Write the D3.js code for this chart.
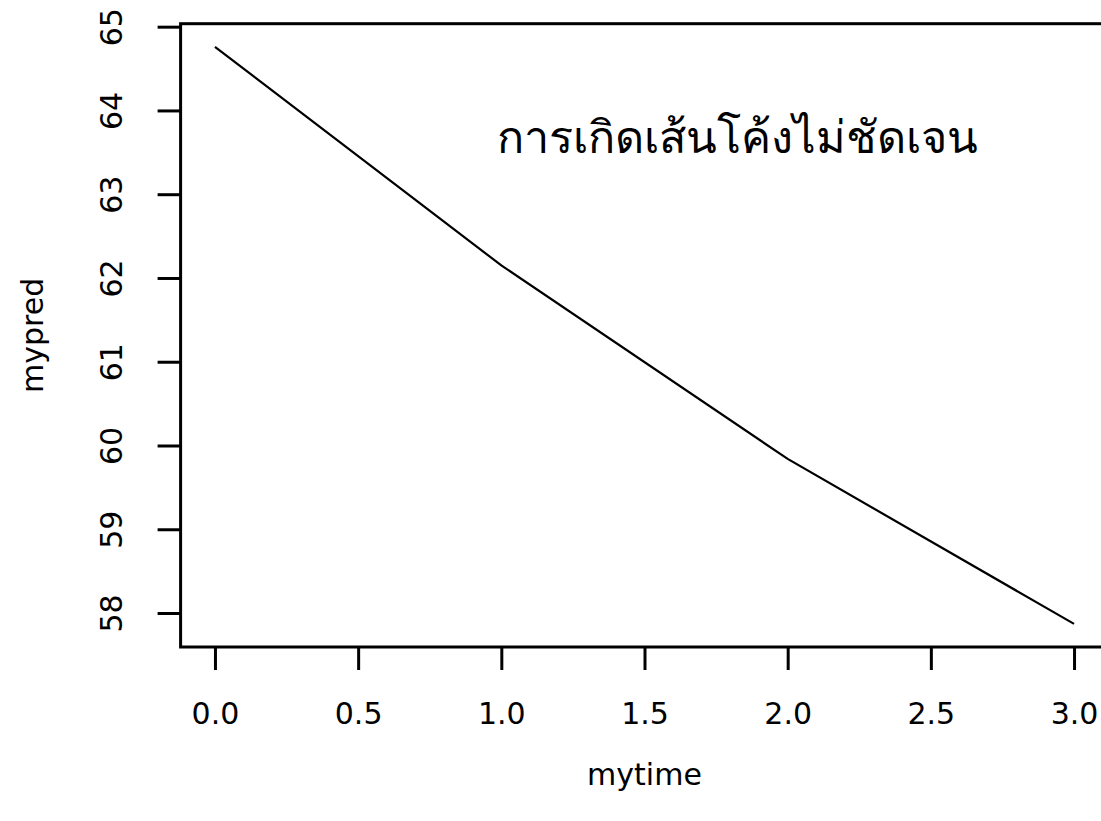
<!DOCTYPE html>
<html>
<head>
<meta charset="utf-8">
<script src="https://cdn.jsdelivr.net/npm/d3@7"></script>
<style>
	body { margin: 0; background: #fff; }
	svg { display: block; }
	text { font-family: 'DejaVu Sans', sans-serif; fill: #000; }
	.tick line { stroke: #000; stroke-width: 3; }
	.tick text { font-size: 30px; }
	.title { font-size: 30px; }
	.note { font-size: 45px; }
</style>
</head>
<body>
<svg width="1101" height="821"></svg>
<script>
const mytime = [0, 1, 2, 3];
const mypred = [64.76, 62.15, 59.84, 57.87];
const xTicks = [0, 0.5, 1, 1.5, 2, 2.5, 3];
const yTicks = [58, 59, 60, 61, 62, 63, 64, 65];
const note = 'การเกิดเส้นโค้งไม่ชัดเจน';

const svg = d3.select('svg');

// R pads the data range by 4% on each side
const xPad = (d3.max(mytime) - d3.min(mytime)) * 0.04;
const yPad = (d3.max(mypred) - d3.min(mypred)) * 0.04;

const x = d3.scaleLinear()
	.domain([d3.min(mytime) - xPad, d3.max(mytime) + xPad])
	.range([180.6, 1108.4]);

const y = d3.scaleLinear()
	.domain([d3.min(mypred) - yPad, d3.max(mypred) + yPad])
	.range([647, 23.7]);

const xAxis = d3.axisBottom(x)
	.tickValues(xTicks)
	.tickFormat(d3.format('.1f'))
	.tickSize(23)
	.tickPadding(33);

svg.append('g')
	.attr('transform', `translate(0 ${y.range()[0]})`)
	.call(xAxis)
	.call((g) => g.select('.domain').remove())
	.call((g) => g.selectAll('text').attr('font-family', null));

const yAxis = d3.axisLeft(y)
	.tickValues(yTicks)
	.tickSize(23);

svg.append('g')
	.attr('transform', `translate(${x.range()[0]} 0)`)
	.call(yAxis)
	.call((g) => g.select('.domain').remove())
	.selectAll('text')
	.attr('font-family', null)
	.attr('x', null)
	.attr('dy', null)
	.attr('text-anchor', 'middle')
	.attr('transform', 'translate(-59 0) rotate(-90)');

// plot box
svg.append('rect')
	.attr('x', x.range()[0])
	.attr('y', y.range()[1])
	.attr('width', x.range()[1] - x.range()[0])
	.attr('height', y.range()[0] - y.range()[1])
	.attr('fill', 'none')
	.attr('stroke', '#000')
	.attr('stroke-width', 3);

const line = d3.line()
	.x((d, i) => x(mytime[i]))
	.y((d) => y(d));

svg.append('path')
	.datum(mypred)
	.attr('d', line)
	.attr('fill', 'none')
	.attr('stroke', '#000')
	.attr('stroke-width', 2.2);

svg.append('text')
	.attr('class', 'note')
	.attr('x', x(1.825))
	.attr('y', y(63.66))
	.attr('dy', 14)
	.attr('text-anchor', 'middle')
	.text(note);

svg.append('text')
	.attr('class', 'title')
	.attr('x', d3.mean(x.range()))
	.attr('y', 785)
	.attr('text-anchor', 'middle')
	.text('mytime');

svg.append('text')
	.attr('class', 'title')
	.attr('text-anchor', 'middle')
	.attr('transform', `translate(43 ${d3.mean(y.range())}) rotate(-90)`)
	.text('mypred');
</script>
</body>
</html>
